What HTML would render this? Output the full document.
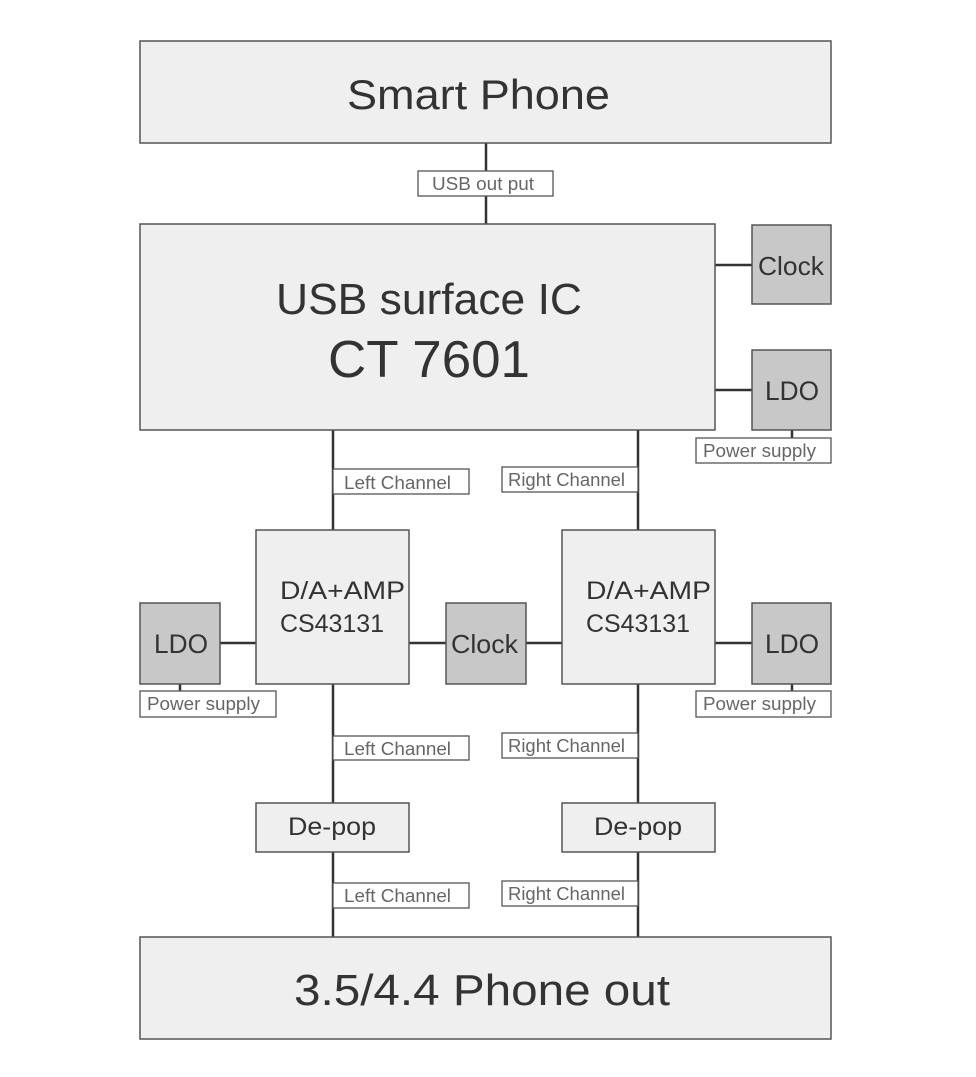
<!DOCTYPE html>
<html><head><meta charset="utf-8"><style>
html,body{margin:0;padding:0;background:#fff;}
svg{display:block;}
text{font-family:"Liberation Sans",sans-serif;fill:#333;}
.lb text{fill:#666;}
</style></head><body>
<svg width="976" height="1077" viewBox="0 0 976 1077">
<g stroke="#333" stroke-width="2.5">
<line x1="486" y1="143" x2="486" y2="224"/>
<line x1="715" y1="265" x2="752" y2="265"/>
<line x1="715" y1="390" x2="752" y2="390"/>
<line x1="792" y1="430" x2="792" y2="438"/>
<line x1="333" y1="430" x2="333" y2="937"/>
<line x1="638" y1="430" x2="638" y2="937"/>
<line x1="220" y1="643" x2="256" y2="643"/>
<line x1="409" y1="643" x2="562" y2="643"/>
<line x1="715" y1="643" x2="752" y2="643"/>
<line x1="180" y1="684" x2="180" y2="691"/>
<line x1="792" y1="684" x2="792" y2="691"/>
</g>
<g stroke="#555" stroke-width="1.5" fill="#efefef">
<rect x="140" y="41" width="691" height="102"/>
<rect x="140" y="224" width="575" height="206"/>
<rect x="256" y="530" width="153" height="154"/>
<rect x="562" y="530" width="153" height="154"/>
<rect x="256" y="803" width="153" height="49"/>
<rect x="562" y="803" width="153" height="49"/>
<rect x="140" y="937" width="691" height="102"/>
</g>
<g stroke="#555" stroke-width="1.5" fill="#c8c8c8">
<rect x="752" y="225" width="79" height="79"/>
<rect x="752" y="350" width="79" height="80"/>
<rect x="140" y="603" width="80" height="81"/>
<rect x="446" y="603" width="80" height="81"/>
<rect x="752" y="603" width="79" height="81"/>
</g>
<g class="lb" stroke="#555" stroke-width="1.3" fill="#fff">
<rect x="418" y="171" width="135" height="25"/>
<rect x="696" y="438" width="135" height="25"/>
<rect x="333" y="469" width="136" height="25"/>
<rect x="502" y="467" width="136" height="25"/>
<rect x="140" y="691" width="136" height="26"/>
<rect x="696" y="691" width="135" height="26"/>
<rect x="333" y="736" width="136" height="24"/>
<rect x="502" y="733" width="136" height="25"/>
<rect x="333" y="883" width="136" height="25"/>
<rect x="502" y="881" width="136" height="25"/>
</g>
<g class="lb" font-size="18">
<text x="432" y="190" textLength="102" lengthAdjust="spacingAndGlyphs">USB out put</text>
<text x="703" y="457" textLength="113" lengthAdjust="spacingAndGlyphs">Power supply</text>
<text x="344" y="489" textLength="107" lengthAdjust="spacingAndGlyphs">Left Channel</text>
<text x="508" y="486" textLength="117" lengthAdjust="spacingAndGlyphs">Right Channel</text>
<text x="147" y="710" textLength="113" lengthAdjust="spacingAndGlyphs">Power supply</text>
<text x="703" y="710" textLength="113" lengthAdjust="spacingAndGlyphs">Power supply</text>
<text x="344" y="755" textLength="107" lengthAdjust="spacingAndGlyphs">Left Channel</text>
<text x="508" y="752" textLength="117" lengthAdjust="spacingAndGlyphs">Right Channel</text>
<text x="344" y="902" textLength="107" lengthAdjust="spacingAndGlyphs">Left Channel</text>
<text x="508" y="900" textLength="117" lengthAdjust="spacingAndGlyphs">Right Channel</text>
</g>
<text x="347" y="109" font-size="42" textLength="263" lengthAdjust="spacingAndGlyphs">Smart Phone</text>
<text x="276" y="314" font-size="44" textLength="306" lengthAdjust="spacingAndGlyphs">USB surface IC</text>
<text x="328" y="377" font-size="52" textLength="202" lengthAdjust="spacingAndGlyphs">CT 7601</text>
<text x="758" y="275" font-size="26" textLength="66" lengthAdjust="spacingAndGlyphs">Clock</text>
<text x="765" y="400" font-size="27" textLength="54" lengthAdjust="spacingAndGlyphs">LDO</text>
<text x="154" y="653" font-size="27" textLength="54" lengthAdjust="spacingAndGlyphs">LDO</text>
<text x="451" y="653" font-size="26" textLength="67" lengthAdjust="spacingAndGlyphs">Clock</text>
<text x="765" y="653" font-size="27" textLength="54" lengthAdjust="spacingAndGlyphs">LDO</text>
<text x="280" y="599" font-size="25" textLength="125" lengthAdjust="spacingAndGlyphs">D/A+AMP</text>
<text x="280" y="632" font-size="25" textLength="104" lengthAdjust="spacingAndGlyphs">CS43131</text>
<text x="586" y="599" font-size="25" textLength="125" lengthAdjust="spacingAndGlyphs">D/A+AMP</text>
<text x="586" y="632" font-size="25" textLength="104" lengthAdjust="spacingAndGlyphs">CS43131</text>
<text x="288" y="835" font-size="25" textLength="88" lengthAdjust="spacingAndGlyphs">De-pop</text>
<text x="594" y="835" font-size="25" textLength="88" lengthAdjust="spacingAndGlyphs">De-pop</text>
<text x="294" y="1005" font-size="44" textLength="376" lengthAdjust="spacingAndGlyphs">3.5/4.4  Phone out</text>
</svg>
</body></html>
